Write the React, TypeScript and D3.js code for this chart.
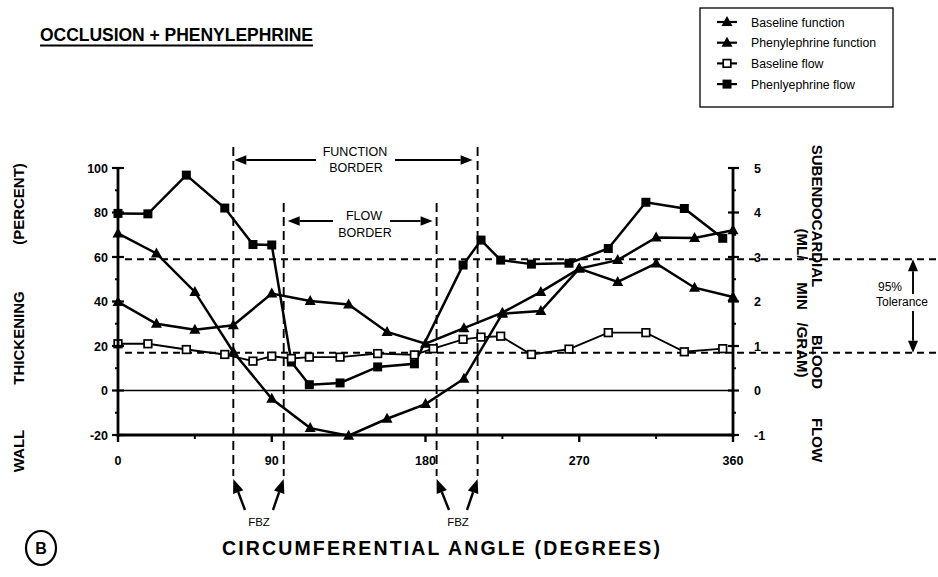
import React from 'react';
import * as d3 from 'd3';

// ---------- DATA ----------
const functionAngles = [0, 22.5, 45, 67.5, 90, 112.5, 135, 157.5, 180, 202.5, 225, 247.5, 270, 292.5, 315, 337.5, 360];
const baselineFunction = [39.8, 30.0, 27.3, 29.3, 43.6, 40.2, 38.7, 26.3, 21.0, 28.0, 35.0, 44.3, 54.8, 48.8, 57.1, 46.2, 42.0];
const phenylephrineFunction = [70.6, 61.6, 44.3, 17.3, -3.7, -16.9, -20.3, -12.7, -6.1, 5.3, 34.5, 35.7, 54.8, 58.6, 68.8, 68.5, 72.0];

const flowAngles = [0, 17.5, 40, 62.5, 79, 90, 101.5, 112, 130, 152, 173.5, 184.5, 202, 212.5, 224, 242, 264, 287, 309, 331.5, 354];
const baselineFlow = [1.05, 1.05, 0.92, 0.81, 0.66, 0.77, 0.72, 0.75, 0.75, 0.83, 0.8, 0.94, 1.15, 1.2, 1.22, 0.81, 0.93, 1.3, 1.3, 0.87, 0.94];
const phenylephrineFlow = [3.98, 3.97, 4.84, 4.1, 3.28, 3.27, 0.64, 0.13, 0.17, 0.53, 0.6, null, 2.82, 3.38, 2.93, 2.84, 2.86, 3.19, 4.23, 4.09, 3.42];

const toleranceFlow = [0.85, 2.95];
const functionBorder = [67.5, 210.5];
const flowBorder = [97, 186.5];

const xTicks = [0, 90, 180, 270, 360];
const xMinorTicks = [45, 135, 225, 315];
const leftTicks = [-20, 0, 20, 40, 60, 80, 100];
const leftMinorTicks = [-10, 10, 30, 50, 70, 90];
const rightTicks = [-1, 0, 1, 2, 3, 4, 5];
const rightMinorTicks = [-0.5, 0.5, 1.5, 2.5, 3.5, 4.5];

const legendLabels = ['Baseline function', 'Phenylephrine function', 'Baseline flow', 'Phenlyephrine flow'];

const FONT = '"Liberation Sans", Arial, Helvetica, sans-serif';

function Arrow({ x1, y1, x2, y2, head = 12, half = 4.8, sw = 1.9 }) {
  const a = Math.atan2(y2 - y1, x2 - x1);
  const bx = x2 - head * Math.cos(a);
  const by = y2 - head * Math.sin(a);
  const px = -Math.sin(a) * half;
  const py = Math.cos(a) * half;
  return (
    <g>
      <line x1={x1} y1={y1} x2={bx} y2={by} stroke="#000" strokeWidth={sw} />
      <path d={`M${x2},${y2}L${bx + px},${by + py}L${bx - px},${by - py}Z`} fill="#000" />
    </g>
  );
}

function Tri({ cx, cy }) {
  return <path d={`M${cx},${cy - 6}L${cx + 5.5},${cy + 4}L${cx - 5.5},${cy + 4}Z`} fill="#000" />;
}
function FSq({ cx, cy }) {
  return <rect x={cx - 4.5} y={cy - 4.5} width={9} height={9} fill="#000" />;
}
function OSq({ cx, cy }) {
  return <rect x={cx - 3.8} y={cy - 3.8} width={7.6} height={7.6} fill="#fff" stroke="#000" strokeWidth={1.7} />;
}

export default function App() {
  const x = d3.scaleLinear().domain([0, 360]).range([118, 733]);
  const yL = d3.scaleLinear().domain([-20, 100]).range([435, 168]);
  const yR = d3.scaleLinear().domain([-1, 5]).range([435, 168]);

  const fnLine = d3.line<[number, number]>().x(d => x(d[0])).y(d => yL(d[1]));
  const flLine = d3.line<[number, number]>().x(d => x(d[0])).y(d => yR(d[1]));

  const bFn = functionAngles.map((a, i) => [a, baselineFunction[i]] as [number, number]);
  const pFn = functionAngles.map((a, i) => [a, phenylephrineFunction[i]] as [number, number]);
  const bFl = flowAngles.map((a, i) => [a, baselineFlow[i]] as [number, number]);
  const pFl = flowAngles
    .map((a, i) => [a, phenylephrineFlow[i]] as [number, number | null])
    .filter(d => d[1] != null) as [number, number][];

  const x0 = x(0), x1 = x(360);
  const yTop = yL(100), yBot = yL(-20);

  return (
    <svg width={938} height={577} style={{ position: 'absolute', left: 0, top: 0, background: '#fff' }} fontFamily={FONT}>
      <rect x={0} y={0} width={938} height={577} fill="#fff" />

      {/* Title */}
      <text x={40} y={41} fontSize={17.5} fontWeight="bold" textLength={273} lengthAdjust="spacing">OCCLUSION  +  PHENYLEPHRINE</text>
      <line x1={40} y1={45.5} x2={313} y2={45.5} stroke="#000" strokeWidth={1.9} />

      {/* Legend */}
      <rect x={700} y={8} width={193} height={99} fill="none" stroke="#000" strokeWidth={1.3} />
      {legendLabels.map((lab, i) => {
        const cy = 22 + i * 20.7;
        return (
          <g key={lab}>
            <line x1={717} y1={cy} x2={737} y2={cy} stroke="#000" strokeWidth={2.2} />
            {i === 0 && <Tri cx={727} cy={cy} />}
            {i === 1 && <Tri cx={727} cy={cy} />}
            {i === 2 && <OSq cx={727} cy={cy} />}
            {i === 3 && <FSq cx={727} cy={cy} />}
            <text x={751} y={cy + 4.5} fontSize={12.3}>{lab}</text>
          </g>
        );
      })}

      {/* zero line */}
      <line x1={x0} y1={yL(0)} x2={x1} y2={yL(0)} stroke="#000" strokeWidth={1.4} />

      {/* tolerance dashed lines */}
      {toleranceFlow.map(t => (
        <line key={t} x1={x0 + 7} y1={yR(t)} x2={938} y2={yR(t)} stroke="#000" strokeWidth={1.9} strokeDasharray="7,5" />
      ))}

      {/* border dashed verticals */}
      {functionBorder.map(b => (
        <line key={'f' + b} x1={x(b)} y1={147} x2={x(b)} y2={476} stroke="#000" strokeWidth={1.9} strokeDasharray="9,5" />
      ))}
      {flowBorder.map(b => (
        <line key={'b' + b} x1={x(b)} y1={203} x2={x(b)} y2={476} stroke="#000" strokeWidth={1.9} strokeDasharray="9,5" />
      ))}

      {/* border annotations */}
      <Arrow x1={316} y1={160} x2={x(functionBorder[0]) + 1} y2={160} />
      <Arrow x1={395} y1={160} x2={x(functionBorder[1]) - 5} y2={160} />
      <text x={355} y={156} fontSize={12.5} textAnchor="middle">FUNCTION</text>
      <text x={356} y={172} fontSize={12.5} textAnchor="middle">BORDER</text>

      <Arrow x1={333} y1={221} x2={x(flowBorder[0]) + 4} y2={221} />
      <Arrow x1={390} y1={221} x2={x(flowBorder[1]) - 4} y2={221} />
      <text x={364} y={220} fontSize={12.5} textAnchor="middle">FLOW</text>
      <text x={365} y={237} fontSize={12.5} textAnchor="middle">BORDER</text>

      {/* series */}
      <path d={fnLine(bFn) || ''} fill="none" stroke="#000" strokeWidth={2.5} />
      <path d={fnLine(pFn) || ''} fill="none" stroke="#000" strokeWidth={2.5} />
      <path d={flLine(pFl) || ''} fill="none" stroke="#000" strokeWidth={2.5} />
      <path d={flLine(bFl) || ''} fill="none" stroke="#000" strokeWidth={1.9} />
      {bFn.map((d, i) => <Tri key={'bf' + i} cx={x(d[0])} cy={yL(d[1])} />)}
      {pFn.map((d, i) => <Tri key={'pf' + i} cx={x(d[0])} cy={yL(d[1])} />)}
      {pFl.map((d, i) => <FSq key={'pl' + i} cx={x(d[0])} cy={yR(d[1])} />)}
      {bFl.map((d, i) => <OSq key={'bl' + i} cx={x(d[0])} cy={yR(d[1])} />)}

      {/* axes */}
      <line x1={x0} y1={yTop - 1} x2={x0} y2={yBot + 2} stroke="#000" strokeWidth={2.8} />
      <line x1={x1} y1={yTop - 1} x2={x1} y2={yBot + 2} stroke="#000" strokeWidth={2.8} />
      <line x1={x0} y1={yBot} x2={x1} y2={yBot} stroke="#000" strokeWidth={2.8} />

      {leftTicks.map(t => (
        <g key={'lt' + t}>
          <line x1={x0 - 6} y1={yL(t)} x2={x0 + 6} y2={yL(t)} stroke="#000" strokeWidth={2.2} />
          <text x={108} y={yL(t) + 4.5} fontSize={12.5} textAnchor="end" fontWeight="bold">{t}</text>
        </g>
      ))}
      {leftMinorTicks.map(t => (
        <line key={'lm' + t} x1={x0 - 3} y1={yL(t)} x2={x0} y2={yL(t)} stroke="#000" strokeWidth={2} />
      ))}
      {rightTicks.map(t => (
        <g key={'rt' + t}>
          <line x1={x1 - 5} y1={yR(t)} x2={x1 + 6} y2={yR(t)} stroke="#000" strokeWidth={2.2} />
          <text x={754} y={yR(t) + 4.5} fontSize={12.5} textAnchor="start" fontWeight="bold">{t}</text>
        </g>
      ))}
      {rightMinorTicks.map(t => (
        <line key={'rm' + t} x1={x1} y1={yR(t)} x2={x1 + 3} y2={yR(t)} stroke="#000" strokeWidth={2} />
      ))}
      {xTicks.map(t => (
        <g key={'xt' + t}>
          <line x1={x(t)} y1={yBot} x2={x(t)} y2={yBot + 7} stroke="#000" strokeWidth={2.4} />
          <text x={x(t)} y={465} fontSize={12.5} textAnchor="middle" fontWeight="bold">{t}</text>
        </g>
      ))}
      {xMinorTicks.map(t => (
        <line key={'xm' + t} x1={x(t)} y1={yBot} x2={x(t)} y2={yBot + 4} stroke="#000" strokeWidth={2} />
      ))}

      {/* Left axis title */}
      <g fontSize={15} fontWeight="bold">
        <text transform="translate(24,451) rotate(-90)" textAnchor="middle">WALL</text>
        <text transform="translate(24,338) rotate(-90)" textAnchor="middle">THICKENING</text>
        <text transform="translate(24,204) rotate(-90)" textAnchor="middle">(PERCENT)</text>
      </g>

      {/* Right axis title */}
      <g fontSize={15} fontWeight="bold">
        <text transform="translate(812,216) rotate(90)" textAnchor="middle">SUBENDOCARDIAL</text>
        <text transform="translate(812,362) rotate(90)" textAnchor="middle">BLOOD</text>
        <text transform="translate(812,440) rotate(90)" textAnchor="middle">FLOW</text>
        <g fontSize={15}>
          <text transform="translate(797,244) rotate(90)" textAnchor="middle">(ML/</text>
          <text transform="translate(797,296) rotate(90)" textAnchor="middle">MIN</text>
          <text transform="translate(797,350) rotate(90)" textAnchor="middle">/GRAM)</text>
        </g>
      </g>

      {/* 95% tolerance */}
      <Arrow x1={913} y1={294} x2={913} y2={yR(toleranceFlow[1])} head={12} half={5} />
      <Arrow x1={913} y1={311} x2={913} y2={yR(toleranceFlow[0])} head={12} half={5} />
      <text x={878} y={291} fontSize={12}>95%</text>
      <text x={876} y={306} fontSize={12}>Tolerance</text>

      {/* FBZ arrows */}
      <Arrow x1={245} y1={510} x2={x(functionBorder[0])} y2={479} head={14} half={5.5} sw={2.4} />
      <Arrow x1={273} y1={510} x2={x(flowBorder[0])} y2={479} head={14} half={5.5} sw={2.4} />
      <text x={259} y={526} fontSize={11.5} textAnchor="middle">FBZ</text>
      <Arrow x1={449} y1={510} x2={x(flowBorder[1])} y2={479} head={14} half={5.5} sw={2.4} />
      <Arrow x1={467} y1={510} x2={x(functionBorder[1])} y2={479} head={14} half={5.5} sw={2.4} />
      <text x={458} y={526} fontSize={11.5} textAnchor="middle">FBZ</text>

      {/* Panel label and x title */}
      <ellipse cx={41} cy={548} rx={15} ry={17} fill="none" stroke="#000" strokeWidth={2.2} />
      <text x={41} y={554} fontSize={16} fontWeight="bold" textAnchor="middle">B</text>
      <text x={222} y={555} fontSize={19.5} fontWeight="bold" textLength={438} lengthAdjust="spacing">CIRCUMFERENTIAL  ANGLE  (DEGREES)</text>
    </svg>
  );
}
